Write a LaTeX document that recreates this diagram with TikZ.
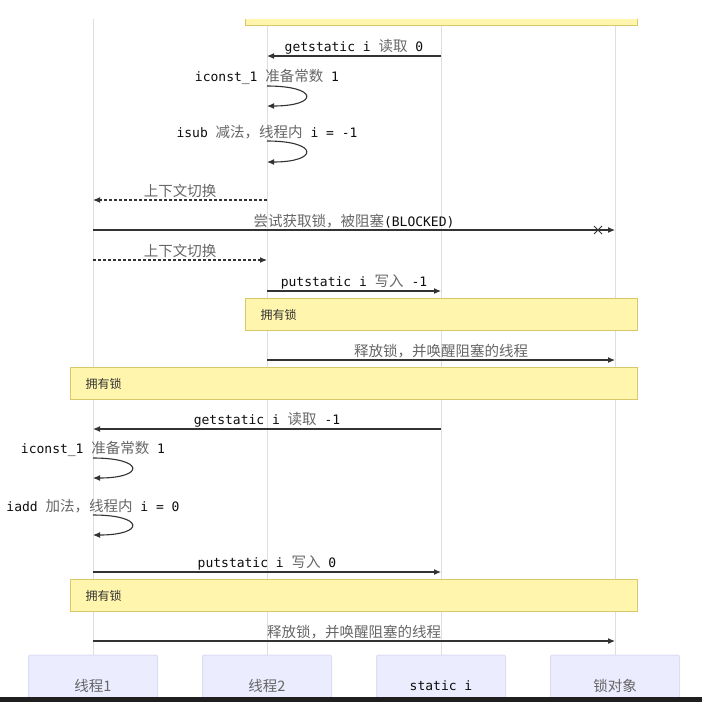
\documentclass[tikz,border=0pt]{standalone}
\usepackage{fontspec}
\setmonofont{DejaVu Sans Mono}
\newfontfamily\zhfont{Noto Sans CJK SC}
\usetikzlibrary{arrows.meta,shapes.misc}

\definecolor{notefill}{HTML}{FFF5AD}
\definecolor{notedraw}{HTML}{D8C86A}
\definecolor{actorfill}{HTML}{ECECFF}
\definecolor{actordraw}{HTML}{DCDCF4}
\definecolor{lifegray}{HTML}{DEDEDE}
\definecolor{msgline}{HTML}{333333}

\newcommand{\zh}[1]{{\zhfont\fontsize{14.5}{16}\selectfont\color{black!60}#1}}

\tikzset{
  lifeline/.style={draw=lifegray, line width=1pt},
  msg/.style={draw=msgline, line width=1.1pt, -{Latex[length=7pt,width=6pt]}},
  reply/.style={msg, dash pattern=on 3pt off 2pt},
  lbl/.style={font=\ttfamily\fontsize{13}{15}\selectfont, text=black!95, inner sep=0pt, above=1.5pt},
  note/.style={draw=notedraw, fill=notefill, line width=1pt, anchor=north west,
    minimum height=32pt, inner xsep=15pt, align=left,
    font=\zhfont\fontsize{12}{14}\selectfont, text=black!80},
  actor/.style={draw=actordraw, fill=actorfill, line width=1pt, rounded corners=2pt,
    minimum width=129pt, minimum height=62pt},
  crossmark/.style={cross out, draw=msgline, line width=1pt, minimum size=7pt, inner sep=0pt},
}

\begin{document}
\begin{tikzpicture}[x=1pt,y=-1pt]
  \useasboundingbox (0,0) rectangle (702,702);
  \clip (0,0) rectangle (702,702);

  % participants at the bottom, lifelines going up
  \foreach \i/\x/\t in {1/93/\zh{线程1}, 2/267/\zh{线程2}, 3/441/static i, 4/615/\zh{锁对象}} {
    \node[actor, font=\ttfamily\fontsize{13}{15}\selectfont, text=black!95] (a\i) at (\x,686) {\t};
    \draw[lifeline] (a\i.north) -- (a\i |- 0,19);
  }

  % note still open from above, only its lower edge shows
  \node[note, minimum height=12pt, inner sep=0pt, text width=392pt] (n0) at (245,13) {};
  \fill[white] (0,0) rectangle (702,19);

  % thread 2 runs
  \draw[msg] (a3 |- 0,56) -- node[lbl] {getstatic i \zh{读取} 0} (a2 |- 0,56);
  \node[lbl] at (a2 |- 0,86) {iconst\_1 \zh{准备常数} 1};
  \draw[msg] (a2 |- 0,86) .. controls +(52,0) and +(52,0) .. (a2 |- 0,106);
  \node[lbl] at (a2 |- 0,141) {isub \zh{减法，线程内} i = -1};
  \draw[msg] (a2 |- 0,141) .. controls +(52,0) and +(52,0) .. (a2 |- 0,162);

  % switch to thread 1, it is blocked
  \draw[reply] (a2 |- 0,200) -- node[lbl] {\zh{上下文切换}} (a1 |- 0,200);
  \draw[msg] (a1 |- 0,230) -- node[lbl] {\zh{尝试获取锁，被阻塞}(BLOCKED)} (a4 |- 0,230);
  \path (a4 |- 0,230) ++(-17,0) node[crossmark] (blk) {};
  \draw[reply] (a1 |- 0,260) -- node[lbl] {\zh{上下文切换}} (a2 |- 0,260);

  % thread 2 writes back and releases
  \draw[msg] (a2 |- 0,291) -- node[lbl] {putstatic i \zh{写入} -1} (a3 |- 0,291);
  \node[note, text width=362pt] (n1) at (245,298) {拥有锁};
  \draw[msg] (a2 |- 0,360) -- node[lbl] {\zh{释放锁，并唤醒阻塞的线程}} (a4 |- 0,360);
  \node[note, text width=537pt] (n2) at (70,367) {拥有锁};

  % thread 1 runs
  \draw[msg] (a3 |- 0,429) -- node[lbl] {getstatic i \zh{读取} -1} (a1 |- 0,429);
  \node[lbl] at (a1 |- 0,458) {iconst\_1 \zh{准备常数} 1};
  \draw[msg] (a1 |- 0,458) .. controls +(52,0) and +(52,0) .. (a1 |- 0,478);
  \node[lbl] at (a1 |- 0,515) {iadd \zh{加法，线程内} i = 0};
  \draw[msg] (a1 |- 0,515) .. controls +(52,0) and +(52,0) .. (a1 |- 0,535);
  \draw[msg] (a1 |- 0,572) -- node[lbl] {putstatic i \zh{写入} 0} (a3 |- 0,572);
  \node[note, text width=537pt] (n3) at (70,579) {拥有锁};
  \draw[msg] (a1 |- 0,641) -- node[lbl] {\zh{释放锁，并唤醒阻塞的线程}} (a4 |- 0,641);

  % dark strip along the bottom edge
  \fill[black!88] (0,697) rectangle (702,702);
\end{tikzpicture}
\end{document}
